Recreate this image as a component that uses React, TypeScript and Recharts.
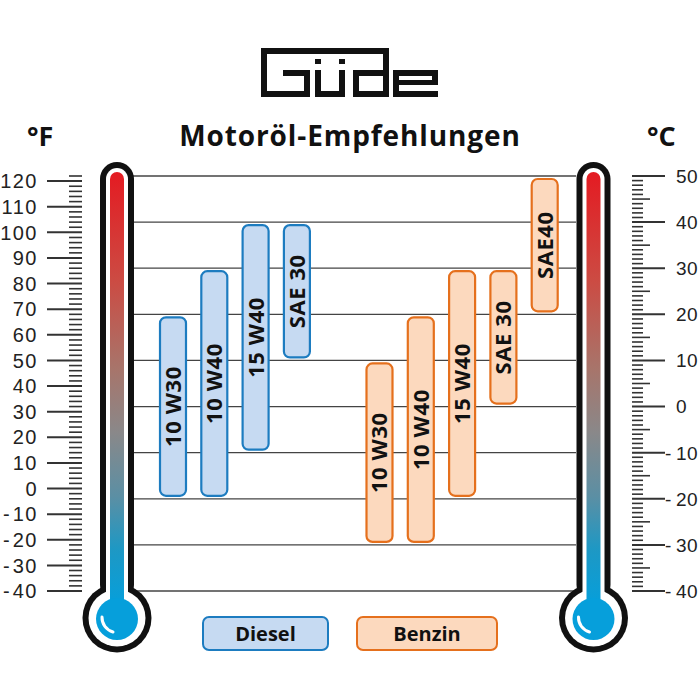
import { BarChart, Bar, XAxis, YAxis, CartesianGrid, Cell, LabelList } from "recharts";

// oil grades, left group diesel, gap, right group petrol
const OILS = ["10 W30", "10 W40", "15 W40", "SAE 30", "", "10 W30", "10 W40", "15 W40", "SAE 30", "SAE40"];
const FUELS = ["Diesel", "Diesel", "Diesel", "Diesel", "", "Benzin", "Benzin", "Benzin", "Benzin", "Benzin"];
// usable temperature range in °C
const LOW_C = [-20, -20, -10, 10, null, -30, -30, -20, 0, 20];
const HIGH_C = [20, 30, 40, 40, null, 10, 20, 30, 30, 50];

const C_MAJOR = [-40, -30, -20, -10, 0, 10, 20, 30, 40, 50];
const F_MAJOR = [-40, -30, -20, -10, 0, 10, 20, 30, 40, 50, 60, 70, 80, 90, 100, 110, 120];

// minor scale marks: every 1 °C, every 2 °F
const C_TICKS: number[] = [];
for (let v = -40; v <= 50; v++) C_TICKS.push(v);
const F_TICKS: number[] = [];
for (let v = -40; v <= 122; v += 2) F_TICKS.push(v);

const COLOURS: Record<string, { fill: string; stroke: string }> = {
  Diesel: { fill: "#c6daf2", stroke: "#1d7cc0" },
  Benzin: { fill: "#fcd9be", stroke: "#e5701d" },
};

const data = OILS.map((name, i) => ({
  name,
  fuel: FUELS[i],
  range: LOW_C[i] === null ? null : [LOW_C[i], HIGH_C[i]],
}));

const TICK_FONT = "'Liberation Sans', Arial, sans-serif";
const BOLD_FONT = "'Open Sans', 'Noto Sans', sans-serif";

function FTick(props: any) {
  const { y, payload } = props;
  const v = payload.value;
  const major = F_MAJOR.includes(v);
  return (
    <g>
      <line x1={major ? 47 : 69} x2={82} y1={y} y2={y} stroke="#333" strokeWidth={major ? 2 : 1.6} />
      {major && (
        <>
          <text x={38} y={y} dy="0.36em" textAnchor="end" fontFamily={TICK_FONT} fontSize={20} letterSpacing={1.5} fill="#222">
            {Math.abs(v)}
          </text>
          {v < 0 && (
            <text x={3} y={y} dy="0.36em" fontFamily={TICK_FONT} fontSize={20} fill="#222">
              -
            </text>
          )}
        </>
      )}
    </g>
  );
}

function CTick(props: any) {
  const { y, payload } = props;
  const v = payload.value;
  const major = v % 10 === 0;
  const mid = v % 5 === 0;
  return (
    <g>
      <line x1={632} x2={major ? 665 : mid ? 650 : 643} y1={y} y2={y} stroke="#333" strokeWidth={major ? 2 : 1.6} />
      {major && (
        <>
          <text x={676} y={y} dy="0.36em" fontFamily={TICK_FONT} fontSize={19} letterSpacing={0.4} fill="#222">
            {Math.abs(v)}
          </text>
          {v < 0 && (
            <text x={665} y={y} dy="0.36em" fontFamily={TICK_FONT} fontSize={19} fill="#222">
              -
            </text>
          )}
        </>
      )}
    </g>
  );
}

function RangeShape(props: any) {
  const { x, y, width, height, payload } = props;
  if (!payload || !payload.fuel) return null;
  const c = COLOURS[payload.fuel];
  const top = Math.min(y, y + height) + 3;
  const h = Math.abs(height) - 6;
  return <rect x={x} y={top} width={width} height={h} rx={6} fill={c.fill} stroke={c.stroke} strokeWidth={2.2} />;
}

function BarName(props: any) {
  const { x, y, width, height, value } = props;
  if (!value) return null;
  const cx = x + width / 2;
  const cy = Math.min(y, y + height) + Math.abs(height) / 2;
  return (
    <text
      x={cx}
      y={cy}
      transform={`rotate(-90 ${cx} ${cy})`}
      textAnchor="middle"
      dy="0.36em"
      fontFamily={BOLD_FONT}
      fontWeight={700}
      fontSize={22}
      letterSpacing={0.6}
      fill="#111"
    >
      {value}
    </text>
  );
}

function Thermometer({ cx }: { cx: number }) {
  return (
    <g>
      <rect x={cx - 17} y={162} width={34} height={440} rx={17} fill="#111" />
      <circle cx={cx} cy={618} r={34.5} fill="#111" />
      <rect x={cx - 11} y={168} width={22} height={440} rx={11} fill="#fff" />
      <circle cx={cx} cy={618} r={28.5} fill="#fff" />
      <rect x={cx - 7} y={172} width={14} height={440} rx={7} fill="url(#tempGrad)" />
      <circle cx={cx} cy={619} r={21} fill="#069fdb" />
      <path d={`M ${cx - 15} ${617} A 15 15 0 0 0 ${cx - 4} ${632}`} fill="none" stroke="#fff" strokeWidth={3} strokeLinecap="round" />
    </g>
  );
}

function Logo() {
  return (
    <g fill="#111">
      <title>Güde</title>
      {/* G */}
      <rect x={261} y={48} width={122} height={6} />
      <rect x={261} y={48} width={6} height={49} />
      <rect x={261} y={91} width={49} height={6} />
      <rect x={304} y={70} width={6} height={27} />
      <rect x={283} y={70} width={27} height={6} />
      {/* ü */}
      <rect x={315} y={59} width={6} height={5} />
      <rect x={339} y={59} width={6} height={5} />
      <rect x={315} y={70} width={6} height={27} />
      <rect x={315} y={91} width={30} height={6} />
      <rect x={339} y={70} width={6} height={27} />
      {/* d */}
      <rect x={383} y={48} width={6} height={49} />
      <rect x={353} y={70} width={36} height={6} />
      <rect x={353} y={70} width={6} height={27} />
      <rect x={353} y={91} width={36} height={6} />
      {/* e */}
      <rect x={393} y={70} width={45} height={6} />
      <rect x={393} y={70} width={6} height={27} />
      <rect x={393} y={91} width={45} height={6} />
      <rect x={393} y={80} width={45} height={5} />
      <rect x={432} y={70} width={6} height={15} />
    </g>
  );
}

const legendBox = (fuel: string, left: number, width: number) => (
  <div
    style={{
      position: "absolute",
      left,
      top: 616,
      width: width - 4,
      height: 31,
      border: `2px solid ${COLOURS[fuel].stroke}`,
      background: COLOURS[fuel].fill,
      borderRadius: 7,
      display: "flex",
      alignItems: "center",
      justifyContent: "center",
      fontFamily: BOLD_FONT,
      fontWeight: 700,
      fontSize: 20,
      color: "#111",
    }}
  >
    {fuel}
  </div>
);

export default function App() {
  return (
    <div style={{ position: "absolute", left: 0, top: 0, width: 700, height: 700, background: "#fff" }}>
      <BarChart
        width={700}
        height={700}
        data={data}
        margin={{ top: 176, bottom: 109, left: 53, right: 44 }}
        barSize={26}
      >
        <CartesianGrid yAxisId="c" vertical={false} horizontalValues={C_MAJOR} stroke="#444" strokeWidth={1.3} />
        <XAxis hide padding={{ left: 19, right: 11 }} />
        <YAxis
          yAxisId="f"
          orientation="left"
          width={80}
          type="number"
          domain={[-40, 122]}
          allowDataOverflow
          ticks={F_TICKS}
          interval={0}
          axisLine={false}
          tickLine={false}
          tick={FTick}
        />
        <YAxis
          yAxisId="c"
          orientation="right"
          width={80}
          type="number"
          domain={[-40, 50]}
          allowDataOverflow
          ticks={C_TICKS}
          interval={0}
          axisLine={false}
          tickLine={false}
          tick={CTick}
        />
        <Bar yAxisId="c" dataKey="range" isAnimationActive={false} shape={<RangeShape />}>
          {data.map((d, i) => (
            <Cell key={i} fill={d.fuel ? COLOURS[d.fuel].fill : "none"} />
          ))}
          <LabelList dataKey="name" content={<BarName />} />
        </Bar>
      </BarChart>
      <svg width={700} height={700} style={{ position: "absolute", left: 0, top: 0, pointerEvents: "none" }}>
        <defs>
          <linearGradient id="tempGrad" gradientUnits="userSpaceOnUse" x1="0" y1="172" x2="0" y2="605">
            <stop offset="0" stopColor="#e41b22" />
            <stop offset="0.25" stopColor="#cc4b43" />
            <stop offset="0.45" stopColor="#a8746a" />
            <stop offset="0.6" stopColor="#8a8889" />
            <stop offset="0.75" stopColor="#5b8fa4" />
            <stop offset="0.87" stopColor="#1e98c4" />
            <stop offset="1" stopColor="#069fdb" />
          </linearGradient>
        </defs>
        <Logo />
        <text x={350} y={146} textAnchor="middle" fontFamily={BOLD_FONT} fontWeight={700} fontSize={28} letterSpacing={0.9} fill="#111">
          Motoröl-Empfehlungen
        </text>
        <text x={27} y={146} fontFamily={BOLD_FONT} fontWeight={700} fontSize={27} fill="#111">
          °F
        </text>
        <text x={647} y={146} fontFamily={BOLD_FONT} fontWeight={700} fontSize={27} fill="#111">
          °C
        </text>
        <Thermometer cx={117} />
        <Thermometer cx={593.5} />
      </svg>
      {legendBox("Diesel", 202, 127)}
      {legendBox("Benzin", 356, 142)}
    </div>
  );
}
